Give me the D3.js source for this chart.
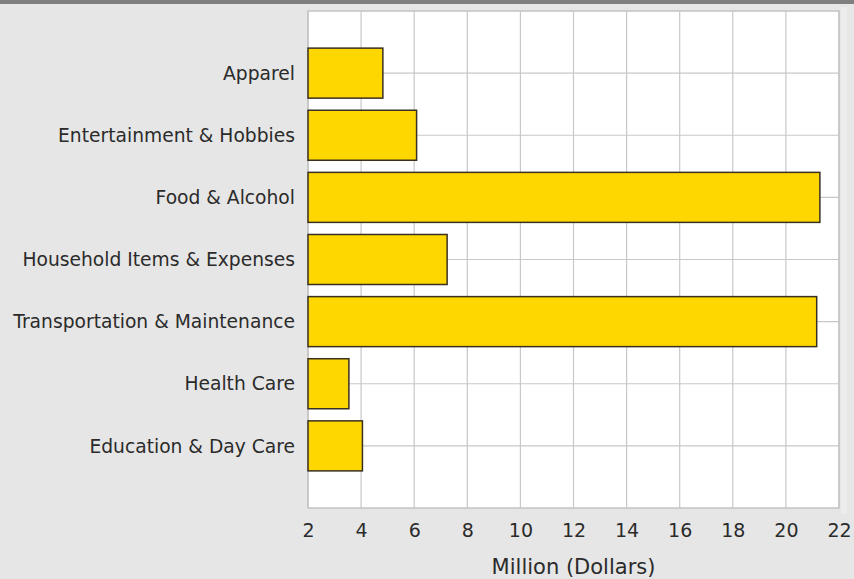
<!DOCTYPE html>
<html>
<head>
<meta charset="utf-8">
<script src="https://d3js.org/d3.v7.min.js"></script>
<style>
  html, body { margin: 0; padding: 0; background: #e6e6e6; }
  svg { display: block; }
</style>
</head>
<body>
<script>
var width = 854;
var height = 579;

// data
var categories = [
    'Apparel',
    'Entertainment & Hobbies',
    'Food & Alcohol',
    'Household Items & Expenses',
    'Transportation & Maintenance',
    'Health Care',
    'Education & Day Care'
];
var values = [4.82, 6.09, 21.28, 7.24, 21.16, 3.54, 4.05];
var xTicks = [2, 4, 6, 8, 10, 12, 14, 16, 18, 20, 22];
var xTitle = 'Million (Dollars)';

var plot = { left: 308, right: 839, top: 11, bottom: 508 };
var font = 'DejaVu Sans, Verdana, sans-serif';

var svg = d3.select('body')
    .append('svg')
    .attr('width', width)
    .attr('height', height);

// background + top strip
svg.append('rect')
    .attr('width', width)
    .attr('height', height)
    .attr('fill', '#e6e6e6');
svg.append('rect')
    .attr('width', width)
    .attr('height', 4)
    .attr('fill', '#7f7f7f');

var x = d3.scaleLinear()
    .domain([2, 22])
    .range([plot.left, plot.right]);

var y = d3.scalePoint()
    .domain(categories)
    .range([plot.top, plot.bottom])
    .padding(1);

var barH = y.step() * 0.805;

// plot area
svg.append('rect')
    .attr('x', plot.left)
    .attr('y', plot.top)
    .attr('width', plot.right - plot.left)
    .attr('height', plot.bottom - plot.top)
    .attr('fill', '#ffffff');

// light strip right of the plot
svg.append('rect')
    .attr('x', plot.right + 2)
    .attr('y', plot.top - 4)
    .attr('width', 6)
    .attr('height', plot.bottom - plot.top + 10)
    .attr('fill', '#ececec');

// grid
svg.append('g')
    .selectAll('line')
    .data(xTicks)
    .enter()
    .append('line')
    .attr('x1', function (d) { return x(d); })
    .attr('x2', function (d) { return x(d); })
    .attr('y1', plot.top)
    .attr('y2', plot.bottom)
    .attr('stroke', '#c8c8c8')
    .attr('stroke-width', 1.2);

svg.append('g')
    .selectAll('line')
    .data(categories)
    .enter()
    .append('line')
    .attr('x1', plot.left)
    .attr('x2', plot.right)
    .attr('y1', function (d) { return y(d); })
    .attr('y2', function (d) { return y(d); })
    .attr('stroke', '#c8c8c8')
    .attr('stroke-width', 1.2);

svg.append('rect')
    .attr('x', plot.left)
    .attr('y', plot.top)
    .attr('width', plot.right - plot.left)
    .attr('height', plot.bottom - plot.top)
    .attr('fill', 'none')
    .attr('stroke', '#c4c4c4')
    .attr('stroke-width', 1.5);

// bars
svg.append('g')
    .selectAll('rect')
    .data(values)
    .enter()
    .append('rect')
    .attr('x', x(2))
    .attr('y', function (d, i) { return y(categories[i]) - barH / 2; })
    .attr('width', function (d) { return x(d) - x(2); })
    .attr('height', barH)
    .attr('fill', '#ffd700')
    .attr('stroke', '#3a3020')
    .attr('stroke-width', 1.5);

// category labels
svg.append('g')
    .selectAll('text')
    .data(categories)
    .enter()
    .append('text')
    .attr('x', plot.left - 13)
    .attr('y', function (d) { return y(d); })
    .attr('dy', '0.36em')
    .attr('text-anchor', 'end')
    .attr('font-family', font)
    .attr('font-size', '18.7px')
    .attr('fill', '#2b2b2b')
    .text(function (d) { return d; });

// x axis tick labels
var xAxis = d3.axisBottom(x)
    .tickValues(xTicks)
    .tickSize(0)
    .tickPadding(0);

var gx = svg.append('g')
    .attr('transform', 'translate(0,' + (plot.bottom + 15) + ')')
    .call(xAxis);
gx.select('.domain').remove();
gx.selectAll('text')
    .attr('font-family', font)
    .attr('font-size', '19px')
    .attr('fill', '#2b2b2b');

// axis title
svg.append('text')
    .attr('x', (plot.left + plot.right) / 2)
    .attr('y', 574)
    .attr('text-anchor', 'middle')
    .attr('font-family', font)
    .attr('font-size', '21px')
    .attr('fill', '#2b2b2b')
    .text(xTitle);
</script>
</body>
</html>
